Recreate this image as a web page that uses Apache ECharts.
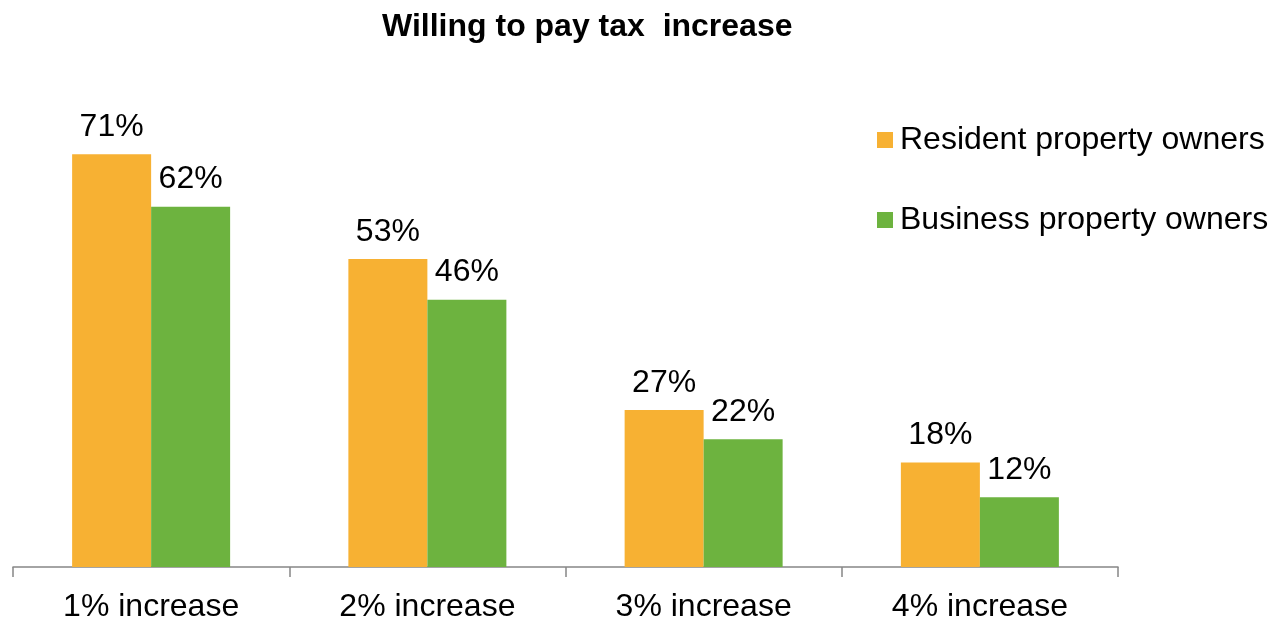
<!DOCTYPE html>
<html>
<head>
<meta charset="utf-8">
<script src="https://cdn.jsdelivr.net/npm/echarts@6/dist/echarts.min.js"></script>
<style>
  html, body { margin: 0; padding: 0; background: #ffffff; }
  #chart { width: 1270px; height: 623px; }
</style>
</head>
<body>
<div id="chart"></div>
<script>
// Share of owners willing to accept each level of tax increase (%)
const categories = ['1% increase', '2% increase', '3% increase', '4% increase'];
const residentOwners = [71, 53, 27, 18];
const businessOwners = [62, 46, 22, 12];
const seriesNames = ['Resident property owners', 'Business property owners'];

const FONT = 'Liberation Sans, Arial, sans-serif';
const chart = echarts.init(document.getElementById('chart'), null, { renderer: 'canvas' });

const valueLabel = {
  show: true,
  position: 'top',
  distance: 11,
  formatter: p => p.value + '%',
  color: '#000000',
  fontFamily: FONT,
  fontSize: 32
};

chart.setOption({
  backgroundColor: '#ffffff',
  animation: false,
  title: {
    text: 'Willing to pay tax  increase',
    left: 377,
    top: 6,
    textStyle: { fontFamily: FONT, fontSize: 32, fontWeight: 'bold', color: '#000000' }
  },
  legend: {
    orient: 'vertical',
    left: 872,
    top: 118,
    itemWidth: 16,
    itemHeight: 16,
    itemGap: 46,
    icon: 'rect',
    data: seriesNames,
    textStyle: { fontFamily: FONT, fontSize: 32, color: '#000000', lineHeight: 34, padding: [0, 0, 0, 2] }
  },
  grid: { left: 13, right: 152, top: 102, bottom: 51, containLabel: false },
  xAxis: {
    type: 'category',
    data: categories,
    axisLine: { show: true, lineStyle: { color: '#868686', width: 1.5 } },
    axisTick: { show: true, length: 10, lineStyle: { color: '#868686', width: 1.5 } },
    axisLabel: { color: '#000000', fontFamily: FONT, fontSize: 32, margin: 24 }
  },
  yAxis: {
    type: 'value',
    min: 0,
    max: 80,
    show: false,
    splitLine: { show: false }
  },
  series: [
    {
      name: seriesNames[0],
      type: 'bar',
      data: residentOwners,
      barWidth: 79,
      barGap: '0%',
      itemStyle: { color: '#F7B133' },
      label: valueLabel
    },
    {
      name: seriesNames[1],
      type: 'bar',
      data: businessOwners,
      barWidth: 79,
      barGap: '0%',
      itemStyle: { color: '#6DB33F' },
      label: valueLabel
    }
  ]
});
</script>
</body>
</html>
